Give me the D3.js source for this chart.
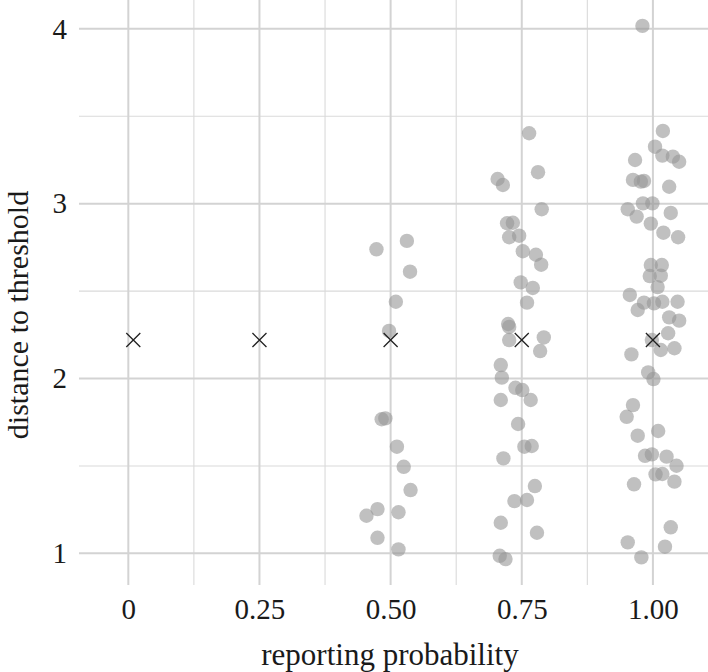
<!DOCTYPE html>
<html>
<head>
<meta charset="utf-8">
<script src="https://cdn.jsdelivr.net/npm/d3@7"></script>
<style>
  body { margin: 0; background: #fff; }
  svg { display: block; font-family: 'Liberation Serif', 'Times New Roman', serif; }
</style>
</head>
<body>
<svg id="chart" width="708" height="672"></svg>
<script>
// reporting probability categories and tick labels
var probTicks = [0, 0.25, 0.5, 0.75, 1]
var probLabels = ['0', '0.25', '0.50', '0.75', '1.00']
var distTicks = [1, 2, 3, 4]

// jittered observations, p = 0.50
var p50X = [0.473, 0.531, 0.537, 0.510, 0.497, 0.483, 0.490, 0.512, 0.525, 0.538, 0.454, 0.475, 0.515, 0.475, 0.515]
var p50Y = [2.739, 2.787, 2.611, 2.439, 2.272, 1.767, 1.772, 1.610, 1.495, 1.362, 1.215, 1.253, 1.235, 1.089, 1.023]

// jittered observations, p = 0.75
var p75X = [0.764, 0.781, 0.704, 0.714, 0.788, 0.722, 0.733, 0.726, 0.745, 0.752, 0.777, 0.787, 0.748, 0.771, 0.760,
  0.724, 0.726, 0.726, 0.792, 0.785, 0.710, 0.712, 0.738, 0.751, 0.767, 0.710, 0.743, 0.755, 0.769, 0.715,
  0.775, 0.736, 0.760, 0.710, 0.779, 0.708, 0.719]
var p75Y = [3.403, 3.180, 3.141, 3.107, 2.968, 2.888, 2.891, 2.808, 2.817, 2.728, 2.708, 2.651, 2.550, 2.518, 2.434,
  2.312, 2.295, 2.220, 2.235, 2.157, 2.077, 2.005, 1.947, 1.934, 1.877, 1.877, 1.740, 1.610, 1.614, 1.543,
  1.385, 1.299, 1.305, 1.175, 1.118, 0.986, 0.967]

// jittered observations, p = 1.00
var p100X = [0.980, 1.019, 1.004, 0.966, 1.018, 1.038, 1.050, 0.962, 0.977, 0.983, 1.031, 0.981, 0.999, 0.952, 0.969,
  1.034, 0.996, 1.020, 1.048, 0.996, 1.017, 0.994, 1.015, 1.009, 0.956, 0.983, 1.002, 1.018, 1.047, 0.971,
  1.031, 1.050, 1.029, 0.998, 1.015, 1.041, 0.959, 0.991, 1.001, 0.962, 0.950, 0.971, 1.010, 0.985, 0.998,
  1.026, 1.045, 1.005, 1.018, 1.041, 0.964, 1.034, 0.952, 1.023, 0.978]
var p100Y = [4.017, 3.416, 3.326, 3.250, 3.275, 3.269, 3.240, 3.136, 3.126, 3.130, 3.097, 3.002, 3.002, 2.968, 2.926,
  2.947, 2.886, 2.834, 2.808, 2.649, 2.649, 2.586, 2.588, 2.523, 2.478, 2.434, 2.430, 2.439, 2.439, 2.392,
  2.350, 2.331, 2.259, 2.220, 2.163, 2.173, 2.138, 2.035, 1.997, 1.848, 1.781, 1.673, 1.700, 1.558, 1.566,
  1.553, 1.501, 1.452, 1.454, 1.410, 1.395, 1.149, 1.063, 1.038, 0.977]

// threshold markers (crosses)
var meanX = [0.0095, 0.25, 0.5, 0.75, 1]
var meanY = [2.22, 2.22, 2.22, 2.22, 2.22]

var svg = d3.select('#chart')
var svgW = +svg.attr('width')
var svgH = +svg.attr('height')
var margin = {top: 0, right: 0, bottom: 87, left: 79}
var width = svgW - margin.left - margin.right
var height = svgH - margin.top - margin.bottom

var x = d3.scaleLinear().domain([-0.094, 1.105]).range([margin.left, margin.left + width])
var y = d3.scaleLinear().domain([0.819, 4.165]).range([margin.top + height, margin.top])

// grid
var grid = svg.append('g').attr('class', 'grid')
var minorX = d3.range(probTicks.length - 1).map((i) => (probTicks[i] + probTicks[i + 1]) / 2)
var minorY = d3.range(distTicks.length - 1).map((i) => (distTicks[i] + distTicks[i + 1]) / 2)

grid.selectAll('.hminor').data(minorY).enter().append('line')
  .attr('x1', x.range()[0]).attr('x2', x.range()[1])
  .attr('y1', (d) => y(d)).attr('y2', (d) => y(d))
  .attr('stroke', '#dadada').attr('stroke-width', 1.1)
grid.selectAll('.vminor').data(minorX).enter().append('line')
  .attr('x1', (d) => x(d)).attr('x2', (d) => x(d))
  .attr('y1', y.range()[0]).attr('y2', y.range()[1])
  .attr('stroke', '#dadada').attr('stroke-width', 1.1)
grid.selectAll('.hmajor').data(distTicks).enter().append('line')
  .attr('x1', x.range()[0]).attr('x2', x.range()[1])
  .attr('y1', (d) => y(d)).attr('y2', (d) => y(d))
  .attr('stroke', '#d3d3d3').attr('stroke-width', 2)
grid.selectAll('.vmajor').data(probTicks).enter().append('line')
  .attr('x1', (d) => x(d)).attr('x2', (d) => x(d))
  .attr('y1', y.range()[0]).attr('y2', y.range()[1])
  .attr('stroke', '#d3d3d3').attr('stroke-width', 2)

// points
var pts = []
;[[p50X, p50Y], [p75X, p75Y], [p100X, p100Y]].forEach(function (g) {
  g[0].forEach(function (v, i) { pts.push({x: v, y: g[1][i]}) })
})
svg.append('g').selectAll('circle').data(pts).enter().append('circle')
  .attr('cx', (d) => x(d.x))
  .attr('cy', (d) => y(d.y))
  .attr('r', 7.2)
  .attr('fill', '#969696')
  .attr('fill-opacity', 0.6)

// crosses
var cross = d3.symbol().type(d3.symbolTimes).size(130)
svg.append('g').selectAll('path').data(meanX).enter().append('path')
  .attr('transform', (d, i) => 'translate(' + x(d) + ',' + y(meanY[i]) + ')')
  .attr('d', cross)
  .attr('fill', 'none')
  .attr('stroke', '#222')
  .attr('stroke-width', 1.3)

// axes
var xAxis = svg.append('g')
  .attr('transform', 'translate(0,' + (margin.top + height) + ')')
  .call(d3.axisBottom(x).tickValues(probTicks).tickFormat((d, i) => probLabels[i]).tickSize(0).tickPadding(13))
var yAxis = svg.append('g')
  .attr('transform', 'translate(' + margin.left + ',0)')
  .call(d3.axisLeft(y).tickValues(distTicks).tickFormat(d3.format('d')).tickSize(0).tickPadding(12))
;[xAxis, yAxis].forEach(function (a) {
  a.select('.domain').remove()
  a.selectAll('text')
    .attr('font-family', "'Liberation Serif', 'Times New Roman', serif")
    .attr('font-size', 29)
    .attr('fill', '#1a1a1a')
})

// axis titles
svg.append('text')
  .attr('x', 390)
  .attr('y', 665)
  .attr('text-anchor', 'middle')
  .attr('font-size', 31)
  .attr('fill', '#1a1a1a')
  .text('reporting probability')
svg.append('text')
  .attr('transform', 'translate(28,' + 315 + ') rotate(-90)')
  .attr('text-anchor', 'middle')
  .attr('font-size', 30)
  .attr('fill', '#1a1a1a')
  .text('distance to threshold')
</script>
</body>
</html>
